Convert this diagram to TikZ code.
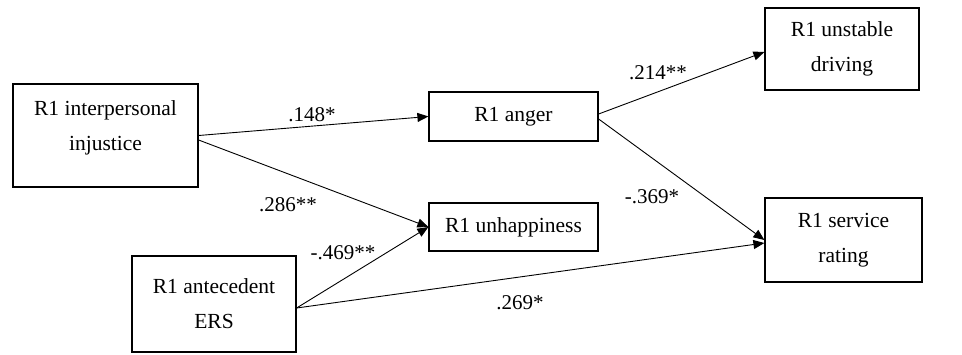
\documentclass[tikz,border=0pt]{standalone}
\usepackage{fontspec}
\setmainfont{Liberation Serif}
\usetikzlibrary{arrows.meta}
\begin{document}
\begin{tikzpicture}[x=1pt,y=-1pt,
  box/.style={draw,line width=1.2pt,inner sep=0pt,align=center,font=\fontsize{21.5}{35}\selectfont},
  txt/.style={inner sep=0pt,align=center,font=\fontsize{21.5}{35}\selectfont},
  lbl/.style={inner sep=0pt,font=\fontsize{21}{24}\selectfont},
  arr/.style={line width=0.9pt,-{Triangle[length=11pt,width=9pt]}}]
\useasboundingbox (0,0) rectangle (962,354);
\node[box,minimum width=185pt,minimum height=103pt] (inj) at (105.5,135.5) {};
\node[txt] (injt) at (105.5,127.5) {R1 interpersonal\\injustice};
\node[box,minimum width=164pt,minimum height=96pt] (ers) at (214,304) {R1 antecedent\\ERS};
\node[box,minimum width=169pt,minimum height=49pt] (anger) at (513.5,116.5) {R1 anger};
\node[box,minimum width=169pt,minimum height=48pt] (unhap) at (513.5,227) {R1 unhappiness};
\node[box,minimum width=154pt,minimum height=82pt] (unst) at (842,49) {R1 unstable\\driving};
\node[box,minimum width=157pt,minimum height=84pt] (serv) at (843.5,240) {R1 service\\rating};
\draw[arr] (inj.east) -- (anger.west);
\draw[arr] ([yshift=-4.5pt]inj.east) -- (unhap.west);
\draw[arr] ([yshift=-4pt]ers.east) -- (unhap.west);
\draw[arr] ([yshift=-4pt]ers.east) -- ([yshift=-3pt]serv.west);
\draw[arr] ([yshift=2.5pt]anger.east) -- ([yshift=-3pt]unst.west);
\draw[arr] ([yshift=-2.5pt]anger.east) -- (serv.west);
\node[lbl] (l1) at (312,115) {.148*};
\node[lbl] (l2) at (288,205) {.286**};
\node[lbl] (l3) at (343,253) {-.469**};
\node[lbl] (l4) at (658,73) {.214**};
\node[lbl] (l5) at (652,197) {-.369*};
\node[lbl] (l6) at (520,303) {.269*};
\end{tikzpicture}
\end{document}
